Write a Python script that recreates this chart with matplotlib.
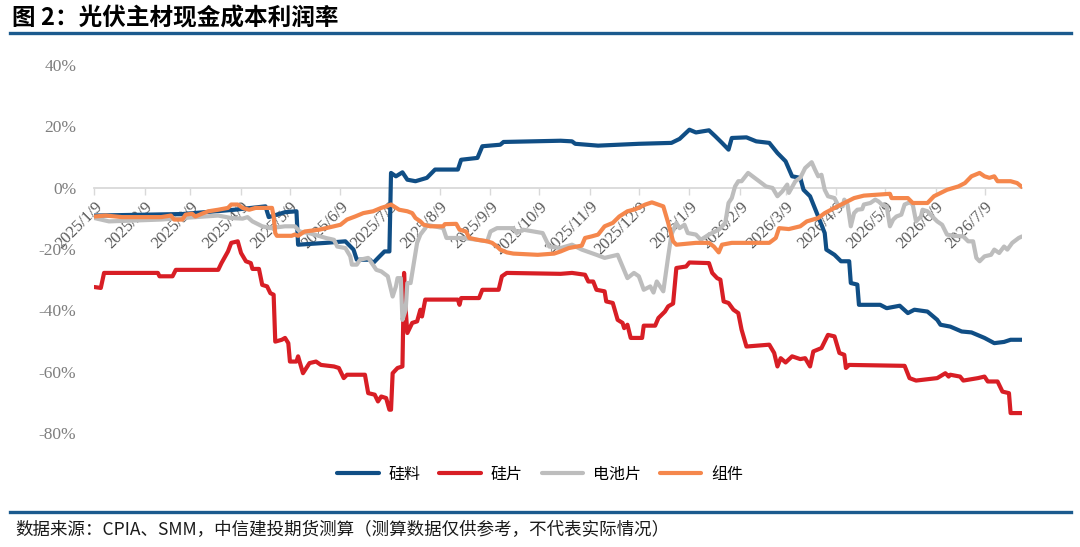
import matplotlib
matplotlib.use("Agg")
import matplotlib.pyplot as plt
import pandas as pd

plt.rcParams['font.family'] = ['Noto Sans CJK SC', 'DejaVu Sans']

TITLE = "图 2：光伏主材现金成本利润率"
SOURCE = "数据来源：CPIA、SMM，中信建投期货测算（测算数据仅供参考，不代表实际情况）"
NAMES = ["硅料", "硅片", "电池片", "组件"]
COLORS = ["#104e85", "#d81e25", "#bdbdbd", "#f5874c"]

# 硅料
poly_dates = ["2025-01-09", "2025-03-04", "2025-04-05", "2025-04-24", "2025-04-26", "2025-05-06",
              "2025-05-13", "2025-05-14", "2025-05-31", "2025-06-12", "2025-06-17", "2025-06-19",
              "2025-06-27", "2025-06-29", "2025-07-03", "2025-07-06", "2025-07-09", "2025-07-10",
              "2025-07-13", "2025-07-17", "2025-07-20", "2025-07-25", "2025-08-01", "2025-08-06",
              "2025-08-20", "2025-08-22", "2025-09-01", "2025-09-04", "2025-09-15", "2025-09-17",
              "2025-10-22", "2025-10-29", "2025-10-31", "2025-11-14", "2025-12-09", "2025-12-29",
              "2026-01-03", "2026-01-09", "2026-01-13", "2026-01-21", "2026-01-25", "2026-01-29",
              "2026-02-02", "2026-02-04", "2026-02-13", "2026-02-19", "2026-02-27", "2026-03-04",
              "2026-03-09", "2026-03-13", "2026-03-18", "2026-03-20", "2026-03-24", "2026-03-29",
              "2026-04-02", "2026-04-03", "2026-04-08", "2026-04-12", "2026-04-17", "2026-04-18",
              "2026-04-22", "2026-04-23", "2026-05-06", "2026-05-10", "2026-05-18", "2026-05-23",
              "2026-05-27", "2026-06-04", "2026-06-10", "2026-06-12", "2026-06-18", "2026-06-25",
              "2026-07-01", "2026-07-09", "2026-07-15", "2026-07-21", "2026-07-25", "2026-08-01"]
poly_vals = [-9.1, -8.6, -7.2, -6.1, -9.6, -8.0,
             -7.7, -18.6, -18.0, -17.5, -20.2, -23.5,
             -23.5, -24.6, -22.4, -20.8, -20.8, 4.8,
             3.7, 5.0, 2.6, 2.1, 3.2, 5.9,
             5.9, 9.1, 9.7, 13.5, 14.0, 14.9,
             15.3, 15.1, 14.3, 13.7, 14.3, 14.6,
             15.9, 18.9, 18.0, 18.7, 16.7, 14.6,
             12.4, 16.2, 16.4, 15.1, 14.6, 11.3,
             8.6, 3.7, 3.2, -0.7, -2.8, -9.4,
             -14.8, -20.2, -21.9, -24.0, -24.0, -31.1,
             -31.6, -38.2, -38.2, -39.3, -38.5, -40.9,
             -39.8, -40.4, -43.1, -44.7, -45.3, -46.9,
             -47.2, -49.0, -50.7, -50.3, -49.6, -49.6]

# 硅片
wafer_dates = ["2025-01-09", "2025-01-13", "2025-01-15", "2025-02-17", "2025-02-18", "2025-02-26",
               "2025-02-28", "2025-03-26", "2025-03-28", "2025-04-01", "2025-04-03", "2025-04-07",
               "2025-04-09", "2025-04-12", "2025-04-15", "2025-04-16", "2025-04-20", "2025-04-22",
               "2025-04-25", "2025-04-27", "2025-04-29", "2025-04-30", "2025-05-04", "2025-05-06",
               "2025-05-08", "2025-05-09", "2025-05-13", "2025-05-14", "2025-05-17", "2025-05-21",
               "2025-05-25", "2025-05-28", "2025-06-05", "2025-06-08", "2025-06-11", "2025-06-13",
               "2025-06-24", "2025-06-26", "2025-06-30", "2025-07-02", "2025-07-04", "2025-07-07",
               "2025-07-09", "2025-07-10", "2025-07-11", "2025-07-14", "2025-07-17", "2025-07-18",
               "2025-07-19", "2025-07-20", "2025-07-23", "2025-07-26", "2025-07-28", "2025-07-29",
               "2025-07-31", "2025-08-20", "2025-08-21", "2025-08-22", "2025-09-02", "2025-09-04",
               "2025-09-14", "2025-09-16", "2025-09-19", "2025-10-22", "2025-10-29", "2025-11-06",
               "2025-11-08", "2025-11-11", "2025-11-13", "2025-11-18", "2025-11-19", "2025-11-23",
               "2025-11-26", "2025-11-29", "2025-11-30", "2025-12-02", "2025-12-04", "2025-12-11",
               "2025-12-12", "2025-12-19", "2025-12-21", "2025-12-25", "2025-12-27", "2025-12-30",
               "2026-01-01", "2026-01-07", "2026-01-09", "2026-01-21", "2026-01-23", "2026-01-26",
               "2026-01-28", "2026-01-30", "2026-02-02", "2026-02-05", "2026-02-08", "2026-02-10",
               "2026-02-13", "2026-02-27", "2026-03-02", "2026-03-04", "2026-03-06", "2026-03-09",
               "2026-03-13", "2026-03-18", "2026-03-21", "2026-03-24", "2026-03-26", "2026-03-31",
               "2026-04-04", "2026-04-08", "2026-04-11", "2026-04-14", "2026-04-15", "2026-04-17",
               "2026-05-21", "2026-05-24", "2026-05-28", "2026-06-10", "2026-06-15", "2026-06-17",
               "2026-06-18", "2026-06-24", "2026-06-26", "2026-07-05", "2026-07-09", "2026-07-11",
               "2026-07-17", "2026-07-20", "2026-07-24", "2026-07-25", "2026-08-01"]
wafer_vals = [-32.4, -32.7, -27.8, -27.8, -28.9, -28.9,
              -26.8, -26.8, -24.6, -20.8, -18.0, -17.5,
              -21.3, -24.0, -24.6, -26.5, -26.5, -31.7,
              -32.2, -34.4, -34.9, -50.2, -49.6, -49.0,
              -50.7, -56.7, -56.7, -55.0, -60.5, -57.2,
              -56.7, -57.8, -58.3, -58.8, -62.1, -61.0,
              -61.0, -67.0, -67.5, -69.7, -68.1, -68.6,
              -72.4, -72.4, -60.5, -58.8, -58.3, -27.8,
              -39.8, -47.4, -44.1, -43.6, -39.8, -42.0,
              -36.5, -36.5, -38.2, -36.0, -36.0, -33.3,
              -33.3, -28.9, -27.8, -28.1, -27.8, -28.4,
              -30.6, -30.6, -33.3, -33.8, -37.1, -37.6,
              -43.1, -44.1, -45.8, -44.7, -49.0, -49.0,
              -45.0, -45.0, -42.5, -40.4, -38.7, -37.8,
              -26.2, -25.7, -24.4, -24.6, -27.8, -29.5,
              -30.0, -37.1, -37.6, -39.8, -40.9, -46.3,
              -51.8, -51.2, -53.9, -58.3, -55.6, -57.0,
              -55.0, -55.9, -55.6, -58.3, -53.4, -52.3,
              -48.0, -48.5, -53.9, -54.5, -58.8, -57.8,
              -58.1, -62.1, -62.9, -62.1, -60.5, -61.6,
              -61.0, -61.6, -62.9, -62.1, -61.6, -63.2,
              -63.2, -66.5, -67.0, -73.5, -73.5]

# 电池片
cell_dates = ["2025-01-09", "2025-01-18", "2025-02-19", "2025-03-04", "2025-03-26", "2025-04-03",
              "2025-04-10", "2025-04-13", "2025-04-16", "2025-04-22", "2025-04-27", "2025-05-06",
              "2025-05-12", "2025-05-15", "2025-05-22", "2025-05-31", "2025-06-05", "2025-06-07",
              "2025-06-12", "2025-06-15", "2025-06-16", "2025-06-19", "2025-06-21", "2025-06-26",
              "2025-07-01", "2025-07-04", "2025-07-08", "2025-07-11", "2025-07-13", "2025-07-14",
              "2025-07-16", "2025-07-17", "2025-07-19", "2025-07-20", "2025-07-22", "2025-07-24",
              "2025-07-26", "2025-07-28", "2025-07-31", "2025-08-01", "2025-08-11", "2025-08-13",
              "2025-08-23", "2025-09-01", "2025-09-07", "2025-09-09", "2025-09-13", "2025-09-23",
              "2025-09-25", "2025-09-29", "2025-10-11", "2025-10-15", "2025-10-22", "2025-10-29",
              "2025-11-04", "2025-11-13", "2025-11-18", "2025-11-26", "2025-11-29", "2025-12-02",
              "2025-12-06", "2025-12-09", "2025-12-12", "2025-12-16", "2025-12-18", "2025-12-20",
              "2025-12-24", "2025-12-27", "2025-12-29", "2026-01-01", "2026-01-03", "2026-01-06",
              "2026-01-08", "2026-01-13", "2026-01-16", "2026-01-21", "2026-01-27", "2026-01-31",
              "2026-02-02", "2026-02-04", "2026-02-06", "2026-02-08", "2026-02-10", "2026-02-14",
              "2026-02-18", "2026-02-25", "2026-03-01", "2026-03-04", "2026-03-07", "2026-03-10",
              "2026-03-11", "2026-03-15", "2026-03-18", "2026-03-21", "2026-03-25", "2026-03-27",
              "2026-03-29", "2026-03-31", "2026-04-02", "2026-04-04", "2026-04-08", "2026-04-10",
              "2026-04-13", "2026-04-14", "2026-04-16", "2026-04-18", "2026-04-20", "2026-04-22",
              "2026-04-25", "2026-04-26", "2026-04-30", "2026-05-03", "2026-05-05", "2026-05-07",
              "2026-05-10", "2026-05-12", "2026-05-14", "2026-05-16", "2026-05-19", "2026-05-21",
              "2026-05-24", "2026-05-26", "2026-05-28", "2026-05-31", "2026-06-01", "2026-06-04",
              "2026-06-07", "2026-06-10", "2026-06-13", "2026-06-16", "2026-06-20", "2026-06-26",
              "2026-06-29", "2026-07-02", "2026-07-04", "2026-07-06", "2026-07-09", "2026-07-13",
              "2026-07-15", "2026-07-18", "2026-07-21", "2026-07-23", "2026-07-26", "2026-07-30",
              "2026-08-01"]
cell_vals = [-9.9, -11.0, -10.4, -9.9, -9.1, -9.9,
             -10.1, -9.6, -11.0, -12.6, -13.2, -12.6,
             -12.6, -14.3, -15.0, -16.4, -17.0, -19.2,
             -19.7, -22.4, -25.1, -25.1, -23.5, -22.9,
             -26.8, -27.3, -28.9, -35.5, -32.2, -29.5,
             -29.5, -43.1, -39.8, -31.1, -31.1, -24.6,
             -18.0, -15.3, -13.2, -12.1, -13.2, -16.4,
             -16.4, -17.0, -17.5, -14.3, -13.2, -13.2,
             -14.8, -13.7, -14.8, -19.2, -19.7, -18.6,
             -20.2, -21.9, -22.9, -21.9, -25.7, -29.5,
             -27.8, -28.9, -33.3, -32.2, -34.2, -30.6,
             -33.8, -22.4, -15.3, -11.5, -13.2, -12.1,
             -14.8, -15.3, -17.0, -15.3, -13.7, -11.5,
             -5.0, -3.4, 0.4, 2.1, 2.1, 4.8,
             3.2, 0.4, -0.1, -2.8, -1.2, 1.0,
             -1.7, 2.1, 3.2, 6.4, 8.3, 5.9,
             3.7, 4.2, -0.7, -2.8, -3.4, -5.5,
             -6.1, -3.9, -5.5, -12.6, -8.3, -7.2,
             -7.0, -5.5, -5.0, -3.9, -4.5, -5.5,
             -6.1, -12.6, -10.4, -9.4, -8.8, -5.5,
             -4.8, -5.5, -11.0, -9.4, -7.2, -7.7,
             -9.4, -11.0, -12.1, -15.3, -15.7, -15.9,
             -17.5, -17.5, -22.9, -24.0, -22.4, -21.9,
             -20.2, -21.3, -19.2, -20.2, -18.0, -16.4,
             -15.9]

# 组件
module_dates = ["2025-01-09", "2025-01-16", "2025-01-26", "2025-02-19", "2025-02-25", "2025-02-27",
                "2025-03-04", "2025-03-06", "2025-03-10", "2025-03-12", "2025-03-16", "2025-03-20",
                "2025-03-26", "2025-04-01", "2025-04-03", "2025-04-07", "2025-04-10", "2025-04-14",
                "2025-04-18", "2025-04-28", "2025-04-29", "2025-04-30", "2025-05-01", "2025-05-10",
                "2025-05-12", "2025-05-14", "2025-05-18", "2025-05-27", "2025-06-05", "2025-06-09",
                "2025-06-13", "2025-06-18", "2025-06-23", "2025-06-29", "2025-07-04", "2025-07-07",
                "2025-07-10", "2025-07-15", "2025-07-20", "2025-07-23", "2025-07-25", "2025-07-28",
                "2025-07-30", "2025-08-03", "2025-08-11", "2025-08-12", "2025-08-19", "2025-08-21",
                "2025-08-25", "2025-08-27", "2025-09-01", "2025-09-07", "2025-09-10", "2025-09-13",
                "2025-09-15", "2025-09-19", "2025-09-23", "2025-10-08", "2025-10-18", "2025-10-22",
                "2025-10-27", "2025-11-04", "2025-11-06", "2025-11-10", "2025-11-14", "2025-11-18",
                "2025-11-23", "2025-11-27", "2025-12-02", "2025-12-07", "2025-12-13", "2025-12-17",
                "2025-12-24", "2025-12-27", "2025-12-30", "2026-01-01", "2026-01-13", "2026-01-21",
                "2026-01-24", "2026-01-27", "2026-01-29", "2026-02-04", "2026-02-27", "2026-03-03",
                "2026-03-05", "2026-03-11", "2026-03-18", "2026-03-22", "2026-03-29", "2026-04-02",
                "2026-04-08", "2026-04-14", "2026-04-20", "2026-04-26", "2026-05-04", "2026-05-12",
                "2026-05-13", "2026-05-23", "2026-05-26", "2026-06-04", "2026-06-08", "2026-06-16",
                "2026-06-23", "2026-06-27", "2026-07-01", "2026-07-06", "2026-07-09", "2026-07-12",
                "2026-07-15", "2026-07-17", "2026-07-25", "2026-07-29", "2026-08-01"]
module_vals = [-9.4, -9.1, -9.6, -9.6, -9.1, -10.4,
               -10.4, -8.8, -8.5, -9.4, -8.5, -7.7,
               -7.2, -6.6, -5.5, -5.5, -6.6, -7.2,
               -6.6, -6.6, -9.4, -14.8, -15.7, -15.7,
               -15.3, -15.7, -14.3, -13.7, -12.6, -12.1,
               -10.4, -9.4, -8.3, -7.7, -6.6, -6.1,
               -5.5, -7.2, -7.7, -8.3, -9.9, -11.0,
               -12.1, -12.6, -12.6, -11.9, -11.8, -13.7,
               -14.3, -16.4, -17.0, -17.5, -18.0, -19.2,
               -20.2, -21.1, -21.5, -21.9, -21.5, -20.8,
               -19.7, -18.9, -16.4, -15.9, -15.3, -12.6,
               -11.5, -9.4, -7.7, -7.0, -5.5, -4.8,
               -6.1, -11.5, -17.5, -18.6, -18.0, -18.0,
               -19.2, -21.1, -18.6, -18.0, -18.0, -16.4,
               -13.2, -13.5, -12.6, -11.0, -9.9, -8.3,
               -6.6, -5.0, -3.4, -2.6, -2.3, -2.0,
               -3.4, -3.4, -5.0, -5.0, -2.8, -0.7,
               0.4, 1.5, 3.7, 4.8, 3.7, 3.2,
               3.7, 2.1, 2.1, 1.5, 0.2]

tick_dates = ["2025-01-09", "2025-02-09", "2025-03-09", "2025-04-09", "2025-05-09", "2025-06-09",
              "2025-07-09", "2025-08-09", "2025-09-09", "2025-10-09", "2025-11-09", "2025-12-09",
              "2026-01-09", "2026-02-09", "2026-03-09", "2026-04-09", "2026-05-09", "2026-06-09",
              "2026-07-09"]
y_ticks = [-80, -60, -40, -20, 0, 20, 40]


def plot() -> None:
    fig = plt.figure(figsize=(10.8, 5.47), dpi=100)
    ax = fig.add_axes([0.0873, 0.2084, 0.9463 - 0.0873, 0.8812 - 0.2084])

    series = [(poly_dates, poly_vals), (wafer_dates, wafer_vals),
              (cell_dates, cell_vals), (module_dates, module_vals)]
    for i, (d, v) in enumerate(series):
        ax.plot(pd.to_datetime(d), v, color=COLORS[i], lw=3.0, label=NAMES[i],
                solid_joinstyle='round', solid_capstyle='round', zorder=3 + i)

    ax.set_xlim(pd.Timestamp("2025-01-09"), pd.Timestamp("2026-08-01"))
    ax.set_ylim(-80, 40)

    # x axis sits on the 0% line
    for s in ['top', 'right', 'left']:
        ax.spines[s].set_visible(False)
    ax.spines['bottom'].set_position(('data', 0))
    ax.spines['bottom'].set_color('#d9d9d9')
    ax.spines['bottom'].set_linewidth(1.3)
    ax.spines['bottom'].set_zorder(1)

    ticks = pd.to_datetime(tick_dates)
    ax.set_xticks(ticks)
    ax.set_xticklabels([f"{t.year}/{t.month}/{t.day}" for t in ticks], rotation=45, ha='right',
                       rotation_mode='anchor', fontsize=12, color='#595959',
                       family='Liberation Serif')
    ax.tick_params(axis='x', direction='out', length=5, width=1, color='#d9d9d9', pad=3)

    ax.set_yticks(y_ticks)
    ax.set_yticklabels([f"{v}%" for v in y_ticks], fontsize=12.5, color='#7f7f7f',
                       family='Liberation Serif')
    ax.tick_params(axis='y', length=0, pad=13)

    fig.legend(loc='center', bbox_to_anchor=(0.5, 0.133), ncol=4, frameon=False,
               fontsize=11.5, handlelength=2.6, handletextpad=0.6, columnspacing=1.2)

    # title, rules and source
    fig.text(0.011, 0.967, TITLE, fontsize=17, fontweight='bold', va='center', ha='left')
    fig.add_artist(plt.Line2D([0.009, 0.992], [0.939, 0.939], color='#1b5a8e', lw=2.4))
    fig.add_artist(plt.Line2D([0.009, 0.992], [0.064, 0.064], color='#1b5a8e', lw=2.4))
    fig.text(0.014, 0.031, SOURCE, fontsize=12.6, va='center', ha='left', color='#1a1a1a')

    fig.savefig("out.png", dpi=100)


def main():
    plot()


if __name__ == "__main__":
    main()
